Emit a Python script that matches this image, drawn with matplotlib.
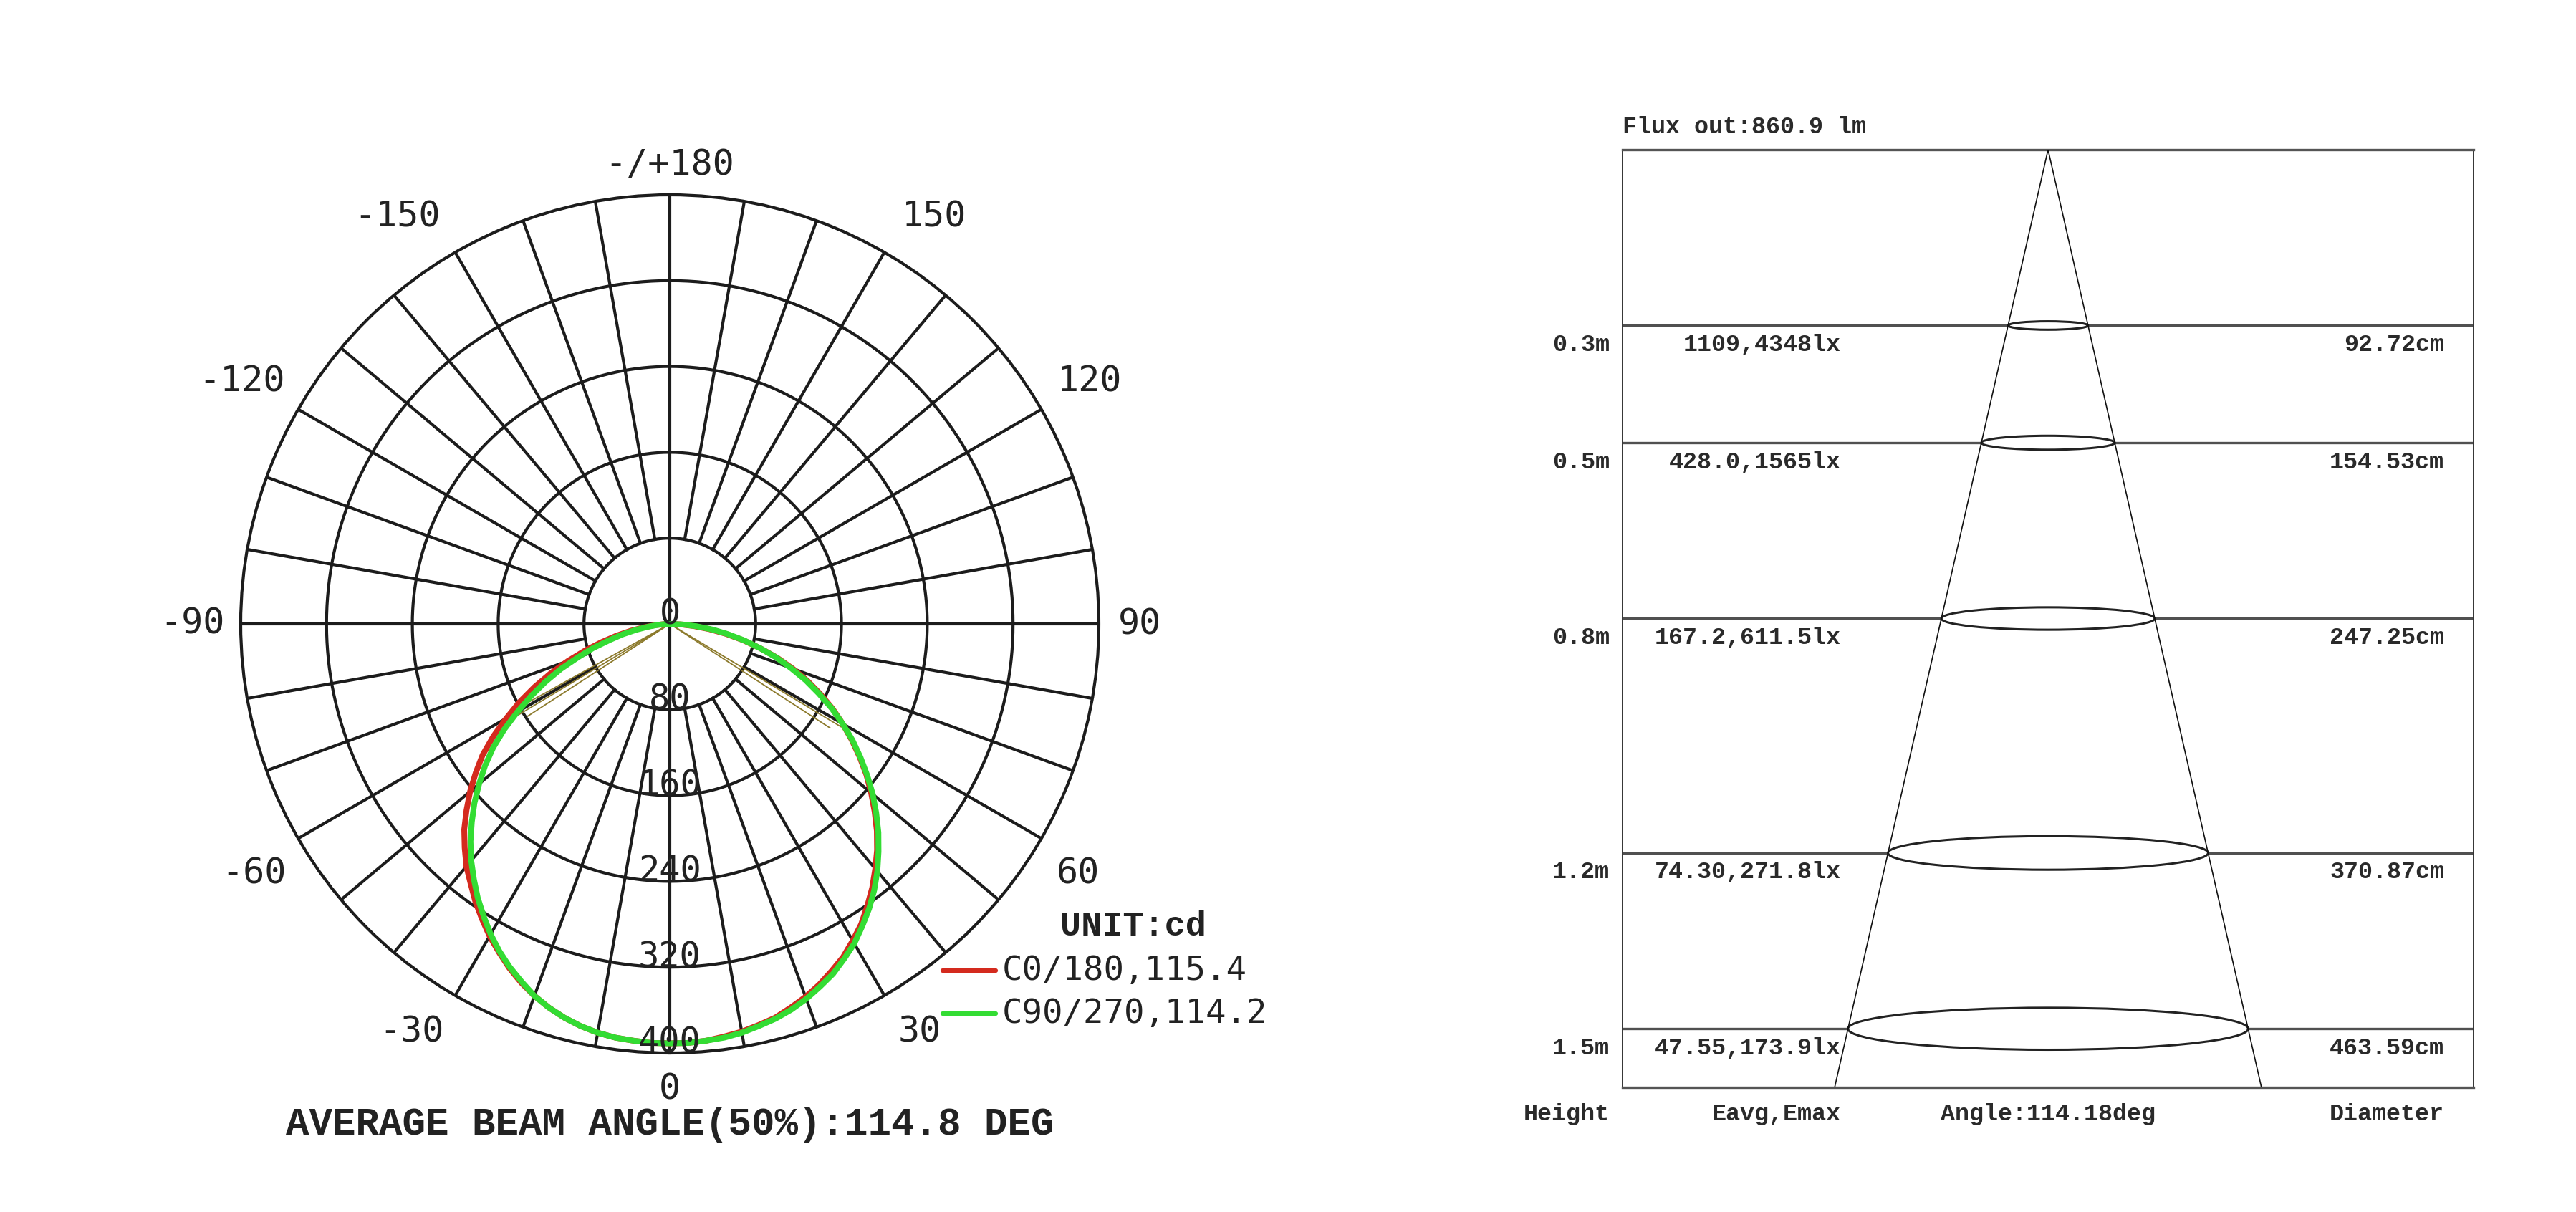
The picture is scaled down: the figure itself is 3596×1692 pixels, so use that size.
import numpy as np
import matplotlib
matplotlib.use("Agg")
import matplotlib.pyplot as plt
from matplotlib.lines import Line2D
from matplotlib.patches import Ellipse
from matplotlib import transforms

"""Light distribution curve + illuminance cone"""

# --- polar diagram (gamma 0 = nadir, values in cd) ---
gamma = [0, 2.5, 5, 7.5, 10, 12.5, 15, 17.5, 20, 22.5, 25, 27.5, 30, 32.5, 35, 37.5, 40, 42.5, 45,
         47.5, 50, 52.5, 55, 57.5, 60, 62.5, 65, 67.5, 70, 72.5, 75, 77.5, 80, 82.5, 85, 87.5, 90]
c0 = [391, 391, 390, 388, 386, 383, 380, 375, 370, 364, 357, 350, 341, 332, 321, 310, 298, 286, 273,
      259, 245, 231, 216, 201, 186, 171, 155, 139, 122, 105, 87, 70, 53, 37, 22, 10, 0]
c180 = [391, 391, 390, 389, 387, 384, 380, 375, 369, 362, 354, 345, 336, 326, 316, 305, 295, 283, 271,
        257, 243, 228, 213, 195, 176, 158, 139, 120, 101, 83, 66, 51, 37, 24, 14, 6, 0]
c90 = [391, 391, 390, 389, 387, 384, 381, 377, 372, 366, 360, 352, 344, 334, 324, 313, 301, 288, 275,
       261, 247, 232, 217, 202, 186, 170, 153, 137, 120, 104, 87, 71, 55, 40, 25, 12, 0]
c270 = [391, 391, 390, 389, 387, 384, 380, 375, 369, 361, 353, 344, 334, 323, 312, 300, 288, 275, 261,
        247, 232, 217, 201, 183, 164, 146, 128, 110, 91, 75, 58, 45, 32, 21, 12, 5, 0]
beam_c0_180 = 115.4
beam_c90_270 = 114.2
beam_avg = 114.8

ring_values = [80, 160, 240, 320, 400]
angle_ticks = [0, 30, 60, 90, 120, 150, 180, -150, -120, -90, -60, -30]
angle_labels = ['0', '30', '60', '90', '120', '150', '-/+180', '-150', '-120', '-90', '-60', '-30']

# thin olive strokes from the centre (other planes)
stray_angles = [-61, -59, -57, 57, 59]
stray_values = [172, 165, 158, 178, 186]

# --- cone diagram ---
heights = [0.3, 0.5, 0.8, 1.2, 1.5]
e_avg = [1109, 428.0, 167.2, 74.30, 47.55]
e_max = [4348, 1565, 611.5, 271.8, 173.9]
diameters = [92.72, 154.53, 247.25, 370.87, 463.59]
flux_out = 860.9
cone_angle = 114.18
h_max = 1.6
x_half = 4.93

RED = '#d42a1e'
GREEN = '#33dc33'
GRID = '#1c1c1c'
MONO = 'DejaVu Sans Mono'
MONO_B = 'Liberation Mono'

W, H = 3596, 1692
fig = plt.figure(figsize=(W / 100, H / 100), dpi=100, facecolor='white')


def fx(px):
    return px / W


def fy(py):
    return 1 - py / H


def fmt4(v):
    s = f"{v:#.4g}"
    return s.rstrip('.')


# ================= polar =================
cx, cy, R = 935, 871, 599
ax = fig.add_axes([fx(cx - R), fy(cy + R), 2 * R / W, 2 * R / H], projection='polar')
ax.set_theta_zero_location('S')
ax.set_theta_direction(1)
ax.set_ylim(0, 400)
ax.set_xticks([])
ax.set_yticks([])
ax.grid(False)
ax.spines['polar'].set_linewidth(3.0)
ax.spines['polar'].set_color(GRID)

th = np.linspace(0, 2 * np.pi, 721)
for r in ring_values[:-1]:
    ax.plot(th, np.full_like(th, r), color=GRID, lw=3.0, zorder=1)
for a in range(0, 360, 10):
    r0 = 0 if a % 90 == 0 else ring_values[0]
    ax.plot([np.radians(a)] * 2, [r0, 400], color=GRID, lw=3.0, zorder=1)

for a, v in zip(stray_angles, stray_values):
    ax.plot([np.radians(a)] * 2, [0, v], color='#8c7a2c', lw=1.3, zorder=2)

g = np.array(gamma)
theta_line = np.radians(np.concatenate([-g[::-1], g[1:]]))
red_r = np.concatenate([np.array(c180)[::-1], np.array(c0)[1:]])
green_r = np.concatenate([np.array(c270)[::-1], np.array(c90)[1:]])
ax.plot(theta_line, red_r, color=RED, lw=5.8, zorder=3, solid_capstyle='round', solid_joinstyle='round')
ax.plot(theta_line, green_r, color=GREEN, lw=5.8, zorder=4, solid_capstyle='round', solid_joinstyle='round')

ax.text(0, 0, '0', ha='center', va='baseline', fontsize=35, family=MONO, color='#222', zorder=5)
for r in ring_values:
    ax.text(0, r, str(r), ha='center', va='baseline', fontsize=35, family=MONO, color='#222', zorder=5)

# label placement (angle, radius) around the rim; minus-signed labels nudged left
label_place = {0: (0, 434), 30: (31.5, 446), 60: (58.5, 446), 90: (90, 438), 120: (120, 452),
               150: (147, 453), 180: (180, 428)}
shift_left = transforms.offset_copy(ax.transData, fig=fig, x=-8, y=0, units='points')
for a, s in zip(angle_ticks, angle_labels):
    pa, pr = label_place[abs(a)]
    tr = ax.transData
    if a < 0:
        pa, tr = -pa, shift_left
    ax.text(np.radians(pa), pr, s, ha='center', va='center', fontsize=36, family=MONO,
            color='#222', clip_on=False, transform=tr)

fig.text(fx(935), fy(1570), f'AVERAGE BEAM ANGLE(50%):{beam_avg} DEG', ha='center', va='center',
         fontsize=39, family=MONO_B, weight='bold', color='#222')

# legend
fig.text(fx(1582), fy(1293), 'UNIT:cd', ha='center', va='center', fontsize=35,
         family=MONO_B, weight='bold', color='#222')
for yy, col, lab in [(1355, RED, f'C0/180,{beam_c0_180}'), (1415, GREEN, f'C90/270,{beam_c90_270}')]:
    fig.add_artist(Line2D([fx(1316), fx(1390)], [fy(yy), fy(yy)], color=col, lw=4.5,
                          solid_capstyle='round'))
    fig.text(fx(1399), fy(yy), lab, ha='left', va='center', fontsize=34, family=MONO, color='#222')

# ================= cone =================
bx0, bx1, by0, by1 = 2265, 3453, 209, 1518
ax2 = fig.add_axes([fx(bx0), fy(by1), (bx1 - bx0) / W, (by1 - by0) / H])
ax2.set_xlim(-x_half, x_half)
ax2.set_ylim(h_max, 0)
ax2.set_xticks([])
ax2.set_yticks([])
for side in ['left', 'right']:
    ax2.spines[side].set_linewidth(1.4)
    ax2.spines[side].set_color('#333')
for side in ['top', 'bottom']:
    ax2.spines[side].set_linewidth(2.4)
    ax2.spines[side].set_color('#555')

px_x = (bx1 - bx0) / (2 * x_half)
px_y = (by1 - by0) / h_max

ax2.hlines(heights, -x_half, x_half, color='#505050', lw=2.4, zorder=1)
for h, d in zip(heights, diameters):
    dm = d / 100
    ax2.add_patch(Ellipse((0, h), dm, 0.105 * dm * px_x / px_y, facecolor='white',
                          edgecolor='#222', lw=2.2, zorder=2))

half = h_max * np.tan(np.radians(cone_angle / 2))
ax2.plot([-half, 0, half], [h_max, 0, h_max], color='#111', lw=1.2, zorder=3)

tf = transforms.blended_transform_factory(ax2.transAxes, ax2.transData)
txt = dict(family=MONO_B, weight='bold', fontsize=24, color='#2a2a2a')
dy = 27 / px_y
for h, ea, em, d in zip(heights, e_avg, e_max, diameters):
    ax2.text(-0.015, h + dy, f'{h}m', transform=tf, ha='right', va='center', **txt)
    ax2.text((2570 - bx0) / (bx1 - bx0), h + dy, f'{fmt4(ea)},{fmt4(em)}lx', transform=tf,
             ha='right', va='center', **txt)
    ax2.text((3412 - bx0) / (bx1 - bx0), h + dy, f'{d:.2f}cm', transform=tf,
             ha='right', va='center', **txt)

yb = -(1555 - by1) / (by1 - by0)
ax2.text(-0.015, yb, 'Height', transform=ax2.transAxes, ha='right', va='center', **txt)
ax2.text((2570 - bx0) / (bx1 - bx0), yb, 'Eavg,Emax', transform=ax2.transAxes, ha='right', va='center', **txt)
ax2.text(0.5, yb, f'Angle:{cone_angle}deg', transform=ax2.transAxes, ha='center', va='center', **txt)
ax2.text((3412 - bx0) / (bx1 - bx0), yb, 'Diameter', transform=ax2.transAxes, ha='right', va='center', **txt)
ax2.text(0, 1 + (by0 - 177) / (by1 - by0), f'Flux out:{flux_out} lm', transform=ax2.transAxes,
         ha='left', va='center', **txt)

fig.savefig('out.png', dpi=100, facecolor='white')
